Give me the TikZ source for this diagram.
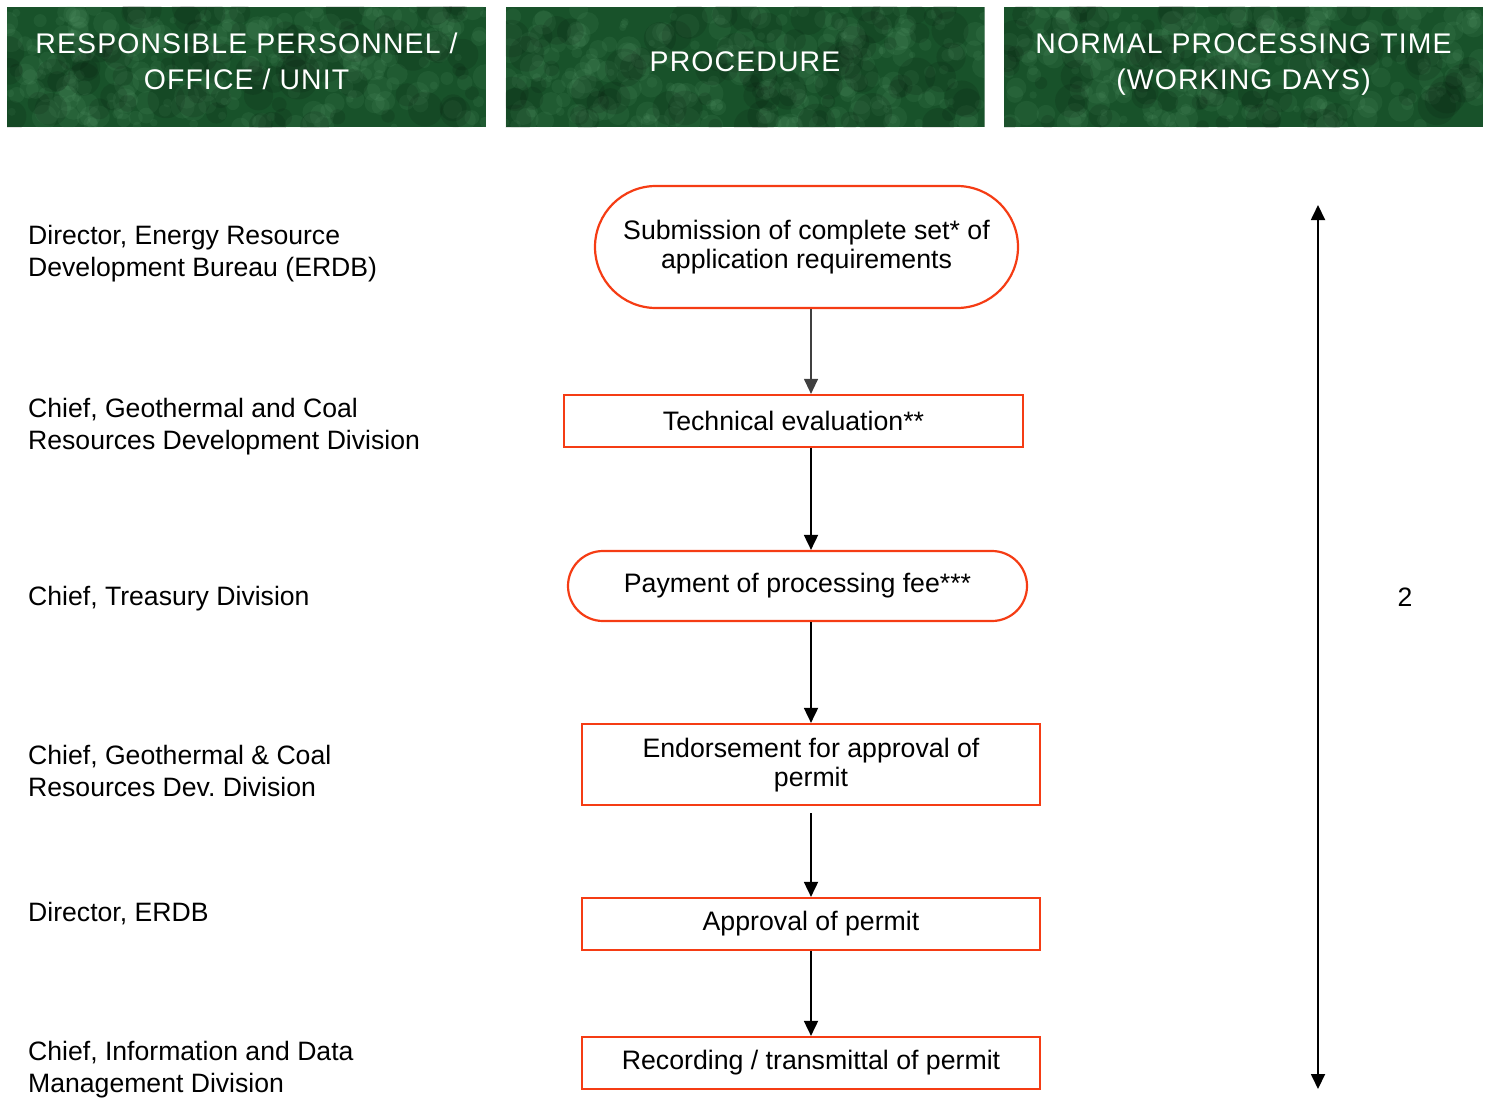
\documentclass[tikz,border=0pt]{standalone}
\usepackage{fontspec}
\setmainfont{Liberation Sans}
\usetikzlibrary{arrows.meta,shapes.geometric}
\definecolor{boxred}{RGB}{245,60,20}
\definecolor{hdrgreen}{RGB}{24,82,42}
\definecolor{hdrlight}{RGB}{130,200,150}
\begin{document}
\begin{tikzpicture}[x=1pt,y=-1pt,
  hdr/.style={draw=none,inner sep=0pt,
    text=white,align=center,font=\fontsize{28.4}{36}\selectfont\addfontfeatures{LetterSpace=4}},
  procbox/.style={draw=boxred,line width=2.2pt,fill=white,minimum height=52pt,inner sep=0pt,
    align=center,font=\fontsize{26.7}{29}\selectfont},
  stadium/.style={procbox,rounded corners=#1},
  who/.style={anchor=west,inner sep=0pt,align=left,font=\fontsize{26.6}{32}\selectfont},
  flow/.style={-{Triangle[width=14pt,length=15pt]},line width=1.8pt}]
\useasboundingbox (0,0) rectangle (1487,1097);
% headers
\pgfmathsetseed{7}
\foreach \cx in {246.5,745,1243.5}{
  \begin{scope}
    \clip (\cx-239.5,7) rectangle (\cx+239.5,127);
    \fill[hdrgreen] (\cx-239.5,7) rectangle (\cx+239.5,127);
    \foreach \i in {1,...,260}{
      \pgfmathsetmacro{\px}{\cx-239.5+479*rnd}
      \pgfmathsetmacro{\py}{7+120*rnd}
      \pgfmathsetmacro{\pr}{3+10*rnd}
      \fill[hdrlight,opacity=0.08] (\px,\py) circle (\pr);
    }
    \foreach \i in {1,...,80}{
      \pgfmathsetmacro{\px}{\cx-239.5+479*rnd}
      \pgfmathsetmacro{\py}{7+120*rnd}
      \pgfmathsetmacro{\pr}{6+14*rnd}
      \fill[black,opacity=0.10] (\px,\py) circle (\pr);
    }
  \end{scope}
}
\node[hdr] (h1) at (246.5,61) {RESPONSIBLE PERSONNEL /\\OFFICE / UNIT};
\node[hdr] (h2) at (745,62) {PROCEDURE};
\node[hdr] (h3) at (1243.5,65) {NORMAL PROCESSING TIME\\(WORKING DAYS)};
% axis coordinate for the flow connectors
\coordinate (ax) at (811,0);
% procedure nodes
\node[stadium=61pt,minimum width=423pt,minimum height=122pt] (n1) at (806.5,247) {\strut Submission of complete set* of\\application requirements};
\node[procbox,minimum width=459pt] (n2) at (793.5,421) {Technical evaluation**};
\node[stadium=35pt,minimum width=459pt,minimum height=70pt] (n3) at (797.5,586) {Payment of processing fee***};
\node[procbox,minimum width=458pt,minimum height=81pt] (n4) at (811,764.5) {\strut Endorsement for approval of\\permit};
\node[procbox,minimum width=458pt] (n5) at (811,924) {Approval of permit};
\node[procbox,minimum width=458pt] (n6) at (811,1063) {Recording / transmittal of permit};
% connectors
\draw[flow,line width=1.2pt,draw=black!75] (n1.south -| ax) -- (n2.north -| ax);
\draw[flow] (n2.south -| ax) -- (n3.north -| ax);
\draw[flow] (n3.south -| ax) -- (n4.north -| ax);
\draw[flow,shorten <=7pt] (n4.south -| ax) -- (n5.north -| ax);
\draw[flow] (n5.south -| ax) -- (n6.north -| ax);
% left labels
\node[who] (w1) at (28,254) {Director, Energy Resource\\Development Bureau (ERDB)};
\node[who] (w2) at (28,427) {Chief, Geothermal and Coal\\Resources Development Division};
\node[who] (w3) at (28,599) {Chief, Treasury Division};
\node[who] (w4) at (28,771) {Chief, Geothermal \& Coal\\Resources Dev.\ Division};
\node[who] (w5) at (28,914) {Director, ERDB};
\node[who] (w6) at (28,1070) {Chief, Information and Data\\Management Division};
% timeline
\coordinate (ttop) at (1318,205);
\coordinate (tbot) at (1318,1089);
\draw[{Triangle[width=14pt,length=15pt]}-{Triangle[width=14pt,length=15pt]},line width=1.8pt] (ttop) -- (tbot);
\node[font=\fontsize{26.6}{29}\selectfont,inner sep=0pt] (days) at (1405,597) {2};
\end{tikzpicture}
\end{document}
